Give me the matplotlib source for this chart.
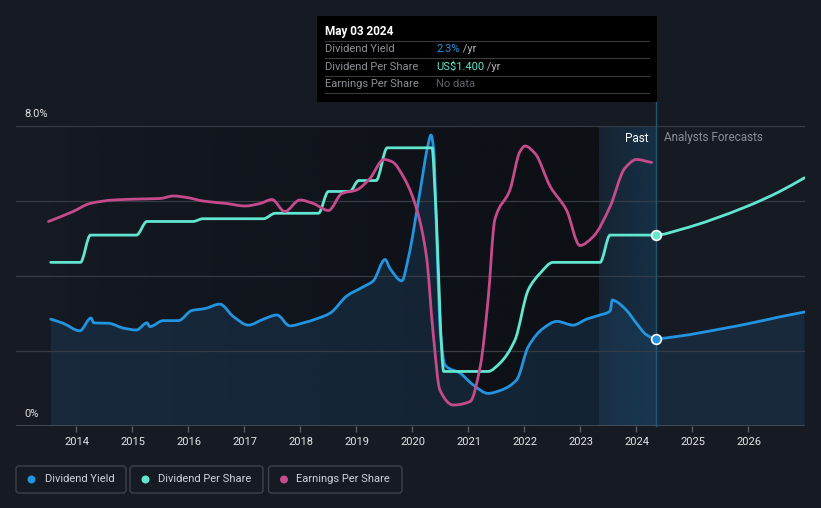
import matplotlib
matplotlib.use("Agg")
import matplotlib.pyplot as plt
import numpy as np
from matplotlib.patches import Rectangle, FancyBboxPatch, Circle, PathPatch
from matplotlib.lines import Line2D
from matplotlib.path import Path
from matplotlib.transforms import IdentityTransform

plt.rcParams['font.family'] = ['Roboto', 'DejaVu Sans']

# ---------------- data ----------------
yield_years = [2013.54, 2013.76, 2014.06, 2014.26, 2014.31, 2014.57, 2014.84, 2015.07, 2015.26, 2015.31,
               2015.55, 2015.82, 2016.06, 2016.29, 2016.56, 2016.80, 2017.07, 2017.34, 2017.58, 2017.81,
               2018.05, 2018.29, 2018.53, 2018.83, 2019.12, 2019.30, 2019.51, 2019.60, 2019.81, 2019.93,
               2020.13, 2020.28, 2020.33, 2020.38, 2020.43, 2020.50, 2020.58, 2020.85, 2021.09, 2021.35,
               2021.59, 2021.86, 2022.07, 2022.34, 2022.58, 2022.87, 2023.11, 2023.35, 2023.53, 2023.57,
               2023.65, 2023.82, 2024.00, 2024.18, 2024.35,
               2024.78, 2025.55, 2025.97, 2026.56, 2027.00]
yield_pct = [2.85, 2.74, 2.54, 2.88, 2.75, 2.74, 2.61, 2.56, 2.75, 2.65,
             2.81, 2.81, 3.08, 3.13, 3.25, 2.92, 2.69, 2.85, 2.96, 2.67,
             2.75, 2.86, 3.01, 3.47, 3.71, 3.87, 4.44, 4.20, 3.87, 4.51,
             6.21, 7.51, 7.76, 7.36, 5.15, 2.48, 1.63, 1.41, 1.09, 0.87,
             0.96, 1.23, 2.12, 2.61, 2.79, 2.69, 2.85, 2.96, 3.07, 3.36,
             3.31, 3.09, 2.74, 2.43, 2.33,
             2.40, 2.60, 2.72, 2.91, 3.04]

dps_years = [2013.54, 2014.07, 2014.25, 2015.07, 2015.26, 2016.08, 2016.26, 2017.34, 2017.55, 2018.32,
             2018.50, 2018.88, 2019.04, 2019.35, 2019.55, 2020.35, 2020.41, 2020.56, 2021.35, 2021.56,
             2021.83, 2022.07, 2022.28, 2022.51, 2023.35, 2023.53, 2024.35,
             2024.78, 2025.97, 2026.56, 2027.00]
dps_usd = [1.20, 1.20, 1.40, 1.40, 1.50, 1.50, 1.52, 1.52, 1.56, 1.56,
           1.72, 1.72, 1.80, 1.80, 2.04, 2.04, 1.66, 0.40, 0.40, 0.46,
           0.63, 1.00, 1.12, 1.20, 1.20, 1.40, 1.40,
           1.44, 1.61, 1.72, 1.82]

eps_years = [2013.50, 2013.94, 2014.24, 2014.66, 2015.13, 2015.49, 2015.73, 2015.97, 2016.26, 2016.68,
             2017.01, 2017.28, 2017.49, 2017.72, 2017.99, 2018.23, 2018.50, 2018.74, 2019.00, 2019.24,
             2019.49, 2019.63, 2019.87, 2020.08, 2020.25, 2020.37, 2020.49, 2020.73, 2021.03, 2021.21,
             2021.35, 2021.47, 2021.74, 2021.92, 2022.01, 2022.19, 2022.46, 2022.75, 2022.99, 2023.23,
             2023.53, 2023.79, 2024.00, 2024.27]
eps_usd = [4.09, 4.29, 4.45, 4.52, 4.54, 4.55, 4.60, 4.57, 4.50, 4.45,
           4.40, 4.45, 4.53, 4.29, 4.52, 4.45, 4.31, 4.65, 4.72, 4.95,
           5.33, 5.29, 4.92, 4.32, 3.39, 1.85, 0.72, 0.42, 0.49, 1.19,
           2.52, 4.12, 4.72, 5.49, 5.60, 5.45, 4.79, 4.32, 3.61, 3.79,
           4.39, 5.15, 5.33, 5.27]

x_ticks = list(range(2014, 2027))
y_labels = ["0%", "8.0%"]
now_year = 2024.35
past_start = 2023.33
tooltip_date = "May 03 2024"
tooltip_rows = [("Dividend Yield", "2.3%", " /yr"),
                ("Dividend Per Share", "US$1.400", " /yr"),
                ("Earnings Per Share", "No data", "")]
legend_names = ["Dividend Yield", "Dividend Per Share", "Earnings Per Share"]

# ---------------- style ----------------
BG = '#151a23'
BLUE = '#2394e0'
TEAL = '#62e6d0'
PINK = '#c64b8c'
GRID = '#363b44'


def monotone_path(xs, ys, close_to=None):
    """Monotone cubic (curveMonotoneX-like) drawn as Bezier path through the given points."""
    x = np.asarray(xs, float)
    y = np.asarray(ys, float)
    h = np.diff(x)
    d = np.diff(y) / h
    m = np.zeros_like(y)
    m[0], m[-1] = d[0], d[-1]
    for i in range(1, len(y) - 1):
        if d[i - 1] * d[i] <= 0:
            m[i] = 0.0
        else:
            w1 = 2 * h[i] + h[i - 1]
            w2 = h[i] + 2 * h[i - 1]
            m[i] = (w1 + w2) / (w1 / d[i - 1] + w2 / d[i])
    verts = [(x[0], y[0])]
    codes = [Path.MOVETO]
    for i in range(len(x) - 1):
        verts += [(x[i] + h[i] / 3, y[i] + m[i] * h[i] / 3),
                  (x[i + 1] - h[i] / 3, y[i + 1] - m[i + 1] * h[i] / 3),
                  (x[i + 1], y[i + 1])]
        codes += [Path.CURVE4] * 3
    if close_to is not None:
        verts += [(x[-1], close_to), (x[0], close_to), (x[0], y[0])]
        codes += [Path.LINETO, Path.LINETO, Path.CLOSEPOLY]
    return Path(verts, codes)


W, H = 821, 508
fig = plt.figure(figsize=(W / 100, H / 100), dpi=100, facecolor=BG)
ax = fig.add_axes([16 / W, 82 / H, 789 / W, 300 / H])
ax.set_facecolor(BG)
for s in ax.spines.values():
    s.set_visible(False)
ax.set_yticks([])

# darker past background gradient
n = 256
grad = np.zeros((1, n, 4))
grad[0, :, :3] = np.array([13, 16, 21]) / 255
grad[0, :, 3] = np.linspace(0.0, 1.0, n) ** 0.8
ax.imshow(grad, extent=[2013.5, past_start, 0, 8], aspect='auto', zorder=0.2, interpolation='bilinear')

# past highlight
grad2 = np.zeros((1, n, 4))
grad2[0, :, :3] = np.array([24, 64, 96]) / 255
grad2[0, :, 3] = np.linspace(0.25, 0.6, n)
ax.imshow(grad2, extent=[past_start, now_year, 0, 8], aspect='auto', zorder=0.3, interpolation='bilinear')
ax.set_xlim(2012.92, 2027.01)
ax.set_ylim(0, 8)

# grid
for yv in [2, 4, 6, 8]:
    ax.axhline(yv, color=GRID, lw=0.9, zorder=1.5)
ax.axhline(0, color='#4a4f58', lw=1.2, zorder=1.5)

# yield fill and line
ax.add_patch(PathPatch(monotone_path(yield_years, yield_pct, close_to=0), facecolor='#1d4466',
                       alpha=0.38, lw=0, zorder=1))
ax.add_patch(PathPatch(monotone_path(yield_years, yield_pct), facecolor='none', edgecolor=BLUE,
                       lw=2.0, zorder=4, joinstyle='round', capstyle='round'))

# DPS on own scale
ax2 = ax.twinx()
ax2.set_ylim(0, 2.2)
ax2.axis('off')
ax2.add_patch(PathPatch(monotone_path(dps_years, dps_usd), facecolor='none', edgecolor=TEAL,
                        lw=2.0, zorder=4, joinstyle='round', capstyle='round'))

# EPS on own scale
ax3 = ax.twinx()
ax3.set_ylim(0, 6.0)
ax3.axis('off')
ax3.add_patch(PathPatch(monotone_path(eps_years, eps_usd), facecolor='none', edgecolor=PINK,
                        lw=2.0, zorder=3, joinstyle='round', capstyle='round'))

# now line
ax.axvline(now_year, ymin=0, ymax=(426 - 101) / 300, color='#24567a', lw=1.0, clip_on=False, zorder=2)

# markers at now
ax2.plot([now_year], [dps_usd[dps_years.index(now_year)]], 'o', ms=7, mfc=TEAL, mec='white', mew=1.2, zorder=6)
ax3.plot([now_year], [yield_pct[yield_years.index(now_year)] * 6.0 / 8.0], 'o', ms=7, mfc=BLUE,
         mec='white', mew=1.2, zorder=6)

# x ticks
ax.set_xticks(x_ticks)
ax.set_xticklabels([str(t) for t in x_ticks])
ax.tick_params(axis='x', colors='#5a5f66', length=4, width=1, pad=4, labelsize=8, labelcolor='#e6e6e6')
for a in (ax2, ax3):
    a.set_xlim(2012.92, 2027.01)


def fx(x):
    return x / W


def fy(y):
    return 1 - y / H


# y labels
fig.text(fx(24), fy(114), y_labels[1], color='#e0e0e0', fontsize=8, va='center', ha='left')
fig.text(fx(24), fy(414), y_labels[0], color='#e0e0e0', fontsize=8, va='center', ha='left')

# Past / forecasts
fig.text(fx(648), fy(138), "Past", color='white', fontsize=8.5, va='center', ha='right')
fig.text(fx(664), fy(138), "Analysts Forecasts", color='#8a8f96', fontsize=8.5, va='center', ha='left')

# tooltip
fig.add_artist(Rectangle((fx(317), fy(101.5)), 340 / W, 85.5 / H, transform=fig.transFigure,
                         facecolor='black', edgecolor='none', zorder=10))
fig.text(fx(325), fy(31.5), tooltip_date, color='white', fontsize=8.5, fontweight='semibold',
         va='center', ha='left', zorder=11)
for ys in [41.3, 58.3, 76, 93]:
    fig.add_artist(Line2D([fx(325), fx(649)], [fy(ys), fy(ys)], transform=fig.transFigure,
                          color='#3a3a3a', lw=0.8, zorder=11))
row_y = [49.3, 66.5, 84]
val_colors = [BLUE, TEAL, '#5f6368']
suffix_x = [462, 486, 0]
for (lab, val, suf), yy, vc, sx in zip(tooltip_rows, row_y, val_colors, suffix_x):
    fig.text(fx(325), fy(yy), lab, color='#8c9096', fontsize=8, va='center', ha='left', zorder=11)
    fig.text(fx(436), fy(yy), val, color=vc, fontsize=8, va='center', ha='left', zorder=11)
    if suf:
        fig.text(fx(sx - 2), fy(yy), suf, color='#b0b4ba', fontsize=8, va='center', ha='left', zorder=11)

# legend
boxes = [(16, 126), (130, 263), (268.5, 402)]
dots = [31.5, 145.5, 284]
txts = [44.5, 158, 296]
cols = [BLUE, TEAL, PINK]
for (x0, x1), dx, tx, c, name in zip(boxes, dots, txts, cols, legend_names):
    fig.add_artist(FancyBboxPatch((x0, H - 493), x1 - x0, 27, boxstyle="round,pad=0,rounding_size=3",
                                  transform=IdentityTransform(), facecolor='none', edgecolor='#3c414a', lw=1))
    fig.add_artist(Circle((dx, H - 479.5), 4, transform=IdentityTransform(), facecolor=c, edgecolor='none'))
    fig.text(fx(tx), fy(479.5), name, color='#d0d3d8', fontsize=8, va='center', ha='left')

fig.savefig('out.png', dpi=100, facecolor=BG)
